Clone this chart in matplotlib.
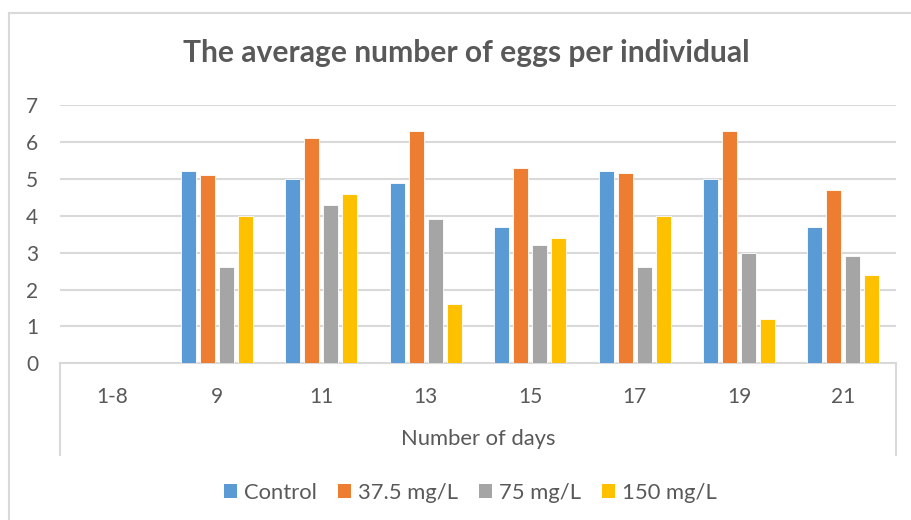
import matplotlib
matplotlib.use('Agg')
import matplotlib.pyplot as plt
from matplotlib.patches import Patch
from matplotlib.lines import Line2D
import numpy as np

# Datos
dias = ['1-8', '9', '11', '13', '15', '17', '19', '21']
series = ['Control', '37.5 mg/L', '75 mg/L', '150 mg/L']
control = [0, 5.2, 5.0, 4.9, 3.7, 5.2, 5.0, 3.7]
dosis_37 = [0, 5.1, 6.1, 6.3, 5.3, 5.15, 6.3, 4.7]
dosis_75 = [0, 2.6, 4.3, 3.9, 3.2, 2.6, 3.0, 2.9]
dosis_150 = [0, 4.0, 4.6, 1.6, 3.4, 4.0, 1.2, 2.4]
colores = ['#5B9BD5', '#ED7D31', '#A5A5A5', '#FFC000']

plt.rcParams['font.family'] = ['Lato', 'DejaVu Sans']
texto = '#595959'
gris = '#D9D9D9'

fig = plt.figure(figsize=(9.12, 5.2), dpi=100)
ax = fig.add_axes([0.0661, 0.3013, 0.916, 0.4967])

x = np.arange(len(dias))
ancho = 0.144
paso = 0.182
valores = [control, dosis_37, dosis_75, dosis_150]
for i, (vals, col) in enumerate(zip(valores, colores)):
    ax.bar(x + (i - 1.5) * paso, vals, width=ancho, color=col,
           edgecolor='white', linewidth=0.6, zorder=3)

ax.set_xlim(-0.5, len(dias) - 0.5)
ax.set_ylim(0, 7)
ax.set_yticks(range(0, 8))
ax.set_xticks(x)
ax.set_xticklabels(dias)
ax.yaxis.grid(True, color=gris, linewidth=1.5, zorder=0)
ax.set_axisbelow(True)

for lado in ['top', 'right', 'left']:
    ax.spines[lado].set_visible(False)
ax.spines['bottom'].set_color(gris)
ax.spines['bottom'].set_linewidth(1.5)

ax.tick_params(axis='y', length=0, pad=16, labelsize=15, labelcolor=texto)
ax.tick_params(axis='x', length=0, pad=17, labelsize=15, labelcolor=texto)

# Caja de categorias (estilo Excel)
for xa in [0, 1]:
    ax.add_line(Line2D([xa, xa], [0, -0.355], transform=ax.transAxes,
                       color=gris, linewidth=1.5, clip_on=False))

fig.text(0.524, 1 - 445 / 520, 'Number of days', ha='center', va='baseline',
         fontsize=15.8, color=texto)
fig.text(0.511, 1 - 62 / 520, 'The average number of eggs per individual',
         ha='center', va='baseline', fontsize=21.6, fontweight='bold', color=texto)

# Borde exterior del grafico
fig.add_artist(Line2D([9 / 912, 9 / 912], [0, 1 - 12.5 / 520],
                      transform=fig.transFigure, color=gris, linewidth=1.5))
fig.add_artist(Line2D([9 / 912, 1], [1 - 12.5 / 520, 1 - 12.5 / 520],
                      transform=fig.transFigure, color=gris, linewidth=1.5))

handles = [Patch(facecolor=c, edgecolor='none') for c in colores]
fig.legend(handles, series, loc='center', bbox_to_anchor=(0.516, 1 - 493 / 520),
           ncol=4, frameon=False, fontsize=15.8, handlelength=0.6,
           handleheight=0.6, handletextpad=0.32, columnspacing=0.95,
           borderpad=0, labelcolor=texto)

fig.savefig('out.png', dpi=100)
plt.close(fig)
